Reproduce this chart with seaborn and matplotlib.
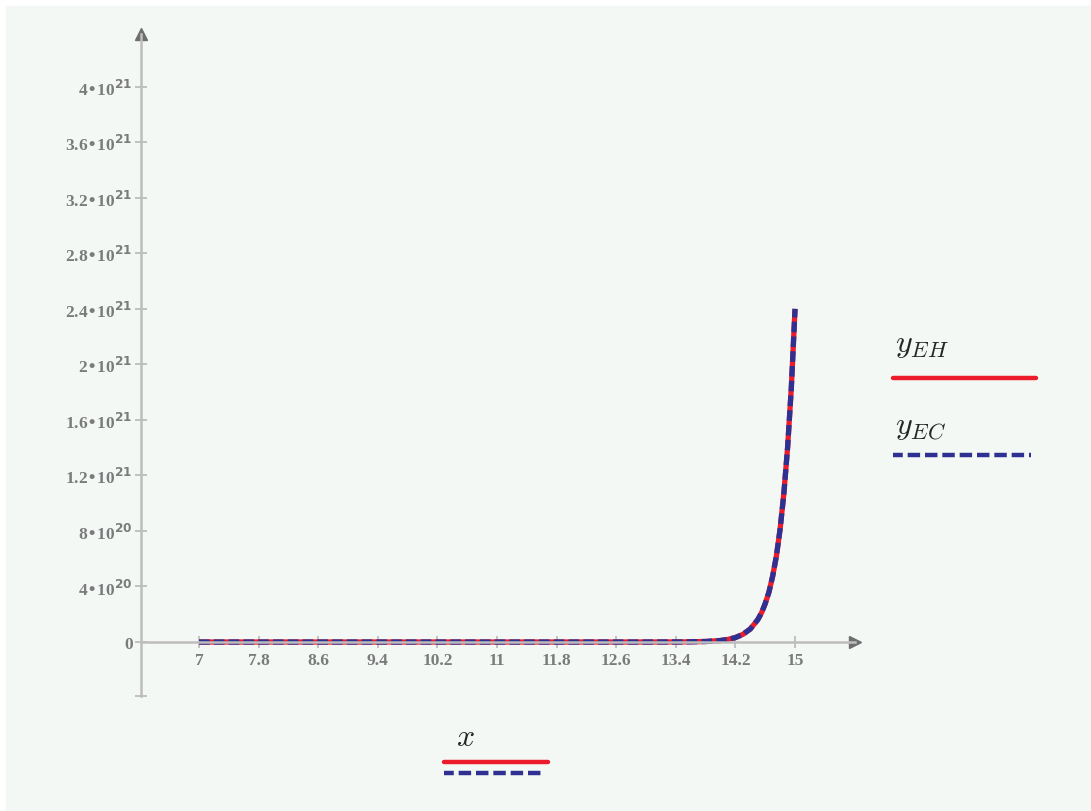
import numpy as np
import pandas as pd
import matplotlib
matplotlib.use("Agg")
import matplotlib.pyplot as plt
import seaborn as sns
from matplotlib.lines import Line2D
from matplotlib.patches import Rectangle

# values
x_vals = [7.0, 8.0, 9.0, 10.0, 11.0, 12.0, 13.0, 13.5, 13.8, 14.0, 14.1, 14.2,
          14.3, 14.4, 14.5, 14.55, 14.6, 14.65, 14.7, 14.75, 14.8, 14.85,
          14.9, 14.95, 15.0]
y_eh = [4e2, 1e5, 2e7, 5e9, 1e12, 2.2e14, 4.9e16, 7.3e17, 3.7e18, 1.08e19,
        1.86e19, 3.2e19, 5.5e19, 9.4e19, 1.61e20, 2.1e20, 2.77e20, 3.6e20,
        4.75e20, 6.2e20, 8.15e20, 1.07e21, 1.40e21, 1.83e21, 2.4e21]
y_ec = list(y_eh)

x_ticks = [7, 7.8, 8.6, 9.4, 10.2, 11, 11.8, 12.6, 13.4, 14.2, 15]
x_tick_labels = ["7", "7.8", "8.6", "9.4", "10.2", "11", "11.8", "12.6",
                 "13.4", "14.2", "15"]
y_ticks = [0, 4e20, 8e20, 1.2e21, 1.6e21, 2e21, 2.4e21, 2.8e21, 3.2e21,
           3.6e21, 4e21]
y_mant = ["0", "4", "8", "1.2", "1.6", "2", "2.4", "2.8", "3.2", "3.6", "4"]
y_exp = ["", "20", "20", "21", "21", "21", "21", "21", "21", "21", "21"]

df = pd.DataFrame({"x": x_vals, "yEH": y_eh, "yEC": y_ec})

sns.set_theme(style="white")
plt.rcParams["font.family"] = ["Liberation Serif", "DejaVu Serif"]

RED = "#ec1c2a"
BLUE = "#2e3192"
AXIS = "#bdbdbd"
LABEL = "#7b7b7b"
W, H = 1091, 812

fig = plt.figure(figsize=(W / 100, H / 100), dpi=100, facecolor="white")
fig.patches.append(Rectangle((6 / W, 0), 1 - 6 / W, (H - 7) / H,
                             transform=fig.transFigure, color="#f3f8f5",
                             zorder=-10))

# axes box: left 141px, right 855px, top 35px, bottom 697px
ax = fig.add_axes([141 / W, 1 - 697 / H, (855 - 141) / W, (697 - 35) / H])
ax.set_facecolor("none")

sns.lineplot(data=df, x="x", y="yEH", ax=ax, color=RED, lw=3.8,
             solid_capstyle="butt")
sns.lineplot(data=df, x="x", y="yEC", ax=ax, color=BLUE, lw=3.8,
             linestyle=(0, (2.0, 0.8)))

ax.set_xlim(6.22, 15.805)
ax.set_ylim(-3.89e20, 4.38e21)

for s in ["top", "right"]:
    ax.spines[s].set_visible(False)
ax.spines["bottom"].set_position(("data", 0))
for s in ["left", "bottom"]:
    ax.spines[s].set_color(AXIS)
    ax.spines[s].set_linewidth(1.8)
ax.plot(1, 0, ">", color="#6e6e6e", ms=8, transform=ax.get_yaxis_transform(),
        clip_on=False)
ax.plot(0, 1, "^", color="#6e6e6e", ms=8, transform=ax.transAxes,
        clip_on=False)

ax.set_xticks(x_ticks)
ax.set_xticklabels(x_tick_labels)
ylabels = [m if not e else m + "•10$^{\\mathbf{" + e + "}}$"
           for m, e in zip(y_mant, y_exp)]
ax.set_yticks(y_ticks + [-3.89e20])
ax.set_yticklabels(ylabels + [""])
ax.tick_params(axis="both", direction="inout", length=8, width=1.3,
               colors=AXIS, labelcolor=LABEL, labelsize=12.5,
               bottom=True, left=True)
ax.tick_params(axis="y", pad=2)
ax.tick_params(axis="x", pad=3)
for t in ax.get_xticklabels() + ax.get_yticklabels():
    t.set_fontweight("bold")
ax.set_xlabel("")
ax.set_ylabel("")

# legend blocks drawn in figure pixels
def px_line(x0, x1, y, **kw):
    fig.add_artist(Line2D([x0 / W, x1 / W], [1 - y / H, 1 - y / H],
                          transform=fig.transFigure, lw=3.2, **kw))

fig.text(895 / W, 1 - 352 / H, r"$y_{EH}$", fontsize=23, math_fontfamily="cm",
         va="baseline")
px_line(893, 1036, 379, color=RED)
fig.text(895 / W, 1 - 434 / H, r"$y_{EC}$", fontsize=23, math_fontfamily="cm",
         va="baseline")
px_line(893, 1031, 456, color=BLUE, linestyle=(0.6, (2.8, 1.1)))

fig.text(456 / W, 1 - 746 / H, r"$x$", fontsize=23, math_fontfamily="cm",
         va="baseline")
px_line(444, 548, 763, color=RED)
px_line(444, 545, 774, color=BLUE, linestyle=(0.6, (2.8, 1.1)))

fig.savefig("out.png", dpi=100, facecolor=fig.get_facecolor())
